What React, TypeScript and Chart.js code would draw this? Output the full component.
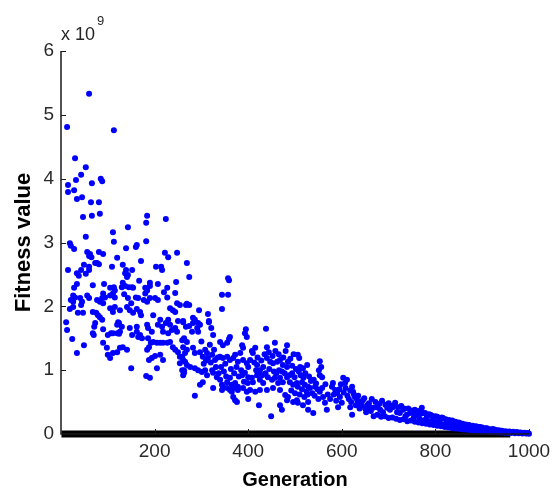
import React, { useEffect, useRef } from "react";
import { Chart, registerables } from "chart.js";

Chart.register(...registerables);

const FONT = '"Liberation Sans", Arial, Helvetica, sans-serif';

const xTicks = [200, 400, 600, 800, 1000];
const yTicks = [0, 1, 2, 3, 4, 5, 6];
const xTitle = "Generation";
const yTitle = "Fitness value";
const exponentBase = "x 10";
const exponentPower = "9";
// generation span of the black marks lying on zero
const zeroBand = [1, 960];

// [generation, fitness / 1e9]
const earlyPhase: [number, number][] = [
  [11, 1.75], [13, 4.81], [13, 1.63], [15, 3.9], [15, 3.79], [15, 2.57], [19, 2.99], [21, 2.95], [19, 1.96], [21, 2.1],
  [24, 1.49], [26, 2.17], [26, 2.07], [26, 1.99], [28, 3.82], [28, 2.9], [28, 2.29], [30, 4.32], [30, 2.14], [32, 3.98],
  [34, 3.68], [34, 2.52], [34, 2.35], [34, 1.27], [36, 1.9], [38, 2.48], [41, 2.13], [43, 4.06], [43, 2.57], [43, 2.02],
  [45, 3.71], [45, 2.07], [47, 3.4], [47, 1.9], [49, 2.65], [49, 1.39], [53, 4.18], [53, 3.09], [53, 2.51], [56, 2.85],
  [56, 2.17], [60, 5.33], [60, 2.79], [60, 2.62], [60, 2.57], [60, 2.13], [62, 2.82], [64, 3.63], [65, 2.77], [66, 3.93],
  [66, 3.42], [68, 2.33], [68, 1.91], [68, 1.58], [70, 1.55], [71, 1.68], [73, 2.68], [73, 1.74], [75, 1.9], [77, 2.68],
  [77, 2.1], [79, 1.86], [81, 3.63], [81, 2.85], [81, 2.66], [83, 3.45], [83, 2.07], [83, 1.83], [85, 4.0], [88, 3.96],
  [88, 2.13], [88, 1.79], [90, 2.82], [90, 2.2], [90, 2.05], [90, 1.64], [90, 1.43], [92, 2.35], [94, 2.14], [98, 1.35],
  [100, 1.55], [100, 1.24], [105, 2.29], [105, 2.17], [105, 1.97], [105, 1.19], [107, 1.58], [109, 2.62], [111, 3.16], [111, 2.2],
  [111, 1.91], [111, 1.58], [111, 1.27], [113, 4.76], [113, 3.01], [113, 2.3], [115, 2.25], [115, 2.14], [115, 1.99], [120, 2.76],
  [120, 1.71], [120, 1.58], [120, 1.28], [122, 1.75], [124, 1.74], [124, 1.57], [126, 1.94], [126, 1.6], [126, 1.35], [130, 2.3],
  [130, 1.68], [132, 2.65], [132, 2.37], [132, 1.36], [135, 2.19], [137, 2.52], [137, 2.32], [139, 2.91], [139, 2.57], [141, 2.46],
  [141, 1.99], [141, 1.32], [143, 3.24], [143, 2.49], [143, 2.13], [145, 2.3], [147, 1.94], [147, 1.66], [150, 2.05], [150, 1.03],
  [152, 2.57], [152, 2.3], [152, 1.55], [154, 2.29], [154, 1.9], [160, 2.93], [160, 2.14], [162, 2.96], [162, 1.96], [162, 1.68],
  [162, 1.6], [165, 2.13], [165, 1.52], [167, 2.4], [169, 1.91], [169, 1.55], [171, 2.71], [171, 1.86], [173, 1.5], [177, 2.1],
  [180, 2.29], [180, 2.2], [182, 3.31], [182, 3.02], [182, 0.91], [184, 3.42], [184, 2.25], [184, 2.07], [184, 1.71], [184, 1.32],
  [186, 1.66], [186, 1.5], [188, 1.36], [188, 1.16], [190, 2.37], [190, 2.32], [190, 2.13], [190, 0.88], [192, 1.43], [194, 1.6],
  [194, 1.19], [197, 1.86], [197, 1.44],
];

const middlePhase: [number, number][] = [
  [201, 2.13], [201, 1.22], [203, 2.62], [205, 1.43], [205, 1.03], [207, 2.35], [207, 2.1], [207, 1.71], [212, 1.79], [212, 1.43],
  [212, 1.24], [214, 2.62], [216, 2.57], [216, 1.68], [218, 1.6], [218, 1.43], [218, 1.16], [220, 2.22], [222, 2.84], [224, 3.37],
  [224, 1.74], [227, 2.29], [227, 2.14], [227, 1.43], [229, 2.77], [229, 1.79], [229, 1.58], [233, 1.97], [233, 1.71], [233, 1.44],
  [237, 1.63], [239, 1.94], [239, 1.36], [244, 2.21], [244, 1.91], [244, 1.66], [244, 1.32], [246, 2.38], [248, 2.84], [248, 2.05],
  [248, 1.6], [250, 1.77], [250, 1.28], [254, 2.02], [254, 1.21], [254, 1.11], [259, 1.47], [259, 1.21], [259, 1.0], [261, 1.77],
  [261, 1.75], [261, 1.36], [261, 1.16], [261, 0.92], [263, 1.5], [263, 1.0], [263, 0.96], [265, 1.27], [265, 1.13], [267, 2.02],
  [267, 1.68], [269, 2.68], [269, 2.04], [269, 1.44], [269, 1.32], [269, 1.08], [274, 2.46], [274, 2.02], [274, 1.69], [276, 1.05],
  [280, 1.6], [282, 1.82], [282, 1.74], [282, 1.35], [286, 1.79], [286, 1.27], [286, 1.03], [286, 0.6], [291, 1.66], [293, 1.74],
  [293, 1.6], [293, 1.0], [295, 1.94], [297, 1.71], [297, 1.28], [297, 0.77], [300, 1.45], [301, 0.97], [303, 1.21], [303, 0.81],
  [305, 1.1], [308, 1.32], [308, 1.0], [310, 1.15], [312, 1.27], [312, 0.92], [314, 1.88], [314, 1.19], [316, 1.77], [316, 1.75],
  [318, 1.4], [320, 1.12], [321, 1.66], [323, 1.24], [323, 1.0], [325, 1.55], [325, 0.96], [325, 0.72], [327, 1.32], [329, 1.16],
  [331, 1.05], [333, 0.89], [335, 1.2], [337, 0.95], [340, 1.44], [340, 1.21], [340, 0.85], [342, 1.05], [344, 2.18], [344, 1.96],
  [344, 0.77], [344, 0.69], [346, 1.39], [346, 1.19], [346, 0.74], [348, 0.98], [351, 1.1], [353, 0.9], [355, 1.43], [355, 1.21],
  [355, 0.81], [355, 0.72], [357, 2.44], [357, 2.18], [359, 2.41], [359, 1.49], [361, 1.52], [361, 1.16], [361, 0.88], [361, 0.69],
  [363, 1.02], [365, 0.77], [365, 0.66], [368, 1.19], [368, 0.72], [368, 0.58], [370, 0.95], [372, 1.24], [372, 0.8], [372, 0.53],
  [375, 1.05], [376, 0.5], [378, 1.13], [378, 0.74], [378, 0.69], [380, 0.9], [383, 1.27], [385, 1.0], [387, 1.39], [387, 0.92],
  [389, 1.35], [389, 1.16], [389, 0.72], [391, 0.82], [393, 1.58], [393, 0.96], [395, 1.64], [397, 1.52], [397, 1.11], [397, 0.66],
  [399, 0.8],
];

const latePhase: [number, number][] = [
  [400, 1.05], [400, 0.89], [400, 0.55], [404, 1.16], [404, 0.69], [408, 1.3], [408, 0.88], [410, 1.27], [410, 0.81], [413, 1.12],
  [415, 1.35], [415, 0.66], [417, 1.0], [419, 1.08], [419, 0.92], [420, 1.2], [423, 0.45], [424, 0.96], [425, 1.0], [425, 0.85],
  [425, 0.69], [428, 1.15], [430, 0.92], [432, 1.05], [432, 0.8], [435, 1.25], [437, 0.95], [438, 1.65], [440, 1.36], [440, 1.19],
  [440, 0.69], [442, 0.89], [444, 1.28], [445, 1.02], [447, 1.13], [449, 0.28], [451, 0.85], [452, 1.22], [453, 1.11], [453, 0.72],
  [455, 0.98], [457, 1.43], [457, 0.88], [458, 1.3], [460, 0.95], [462, 1.13], [464, 0.8], [465, 1.25], [466, 1.0], [468, 1.16],
  [468, 0.88], [468, 0.69], [468, 0.45], [472, 0.98], [472, 0.38], [474, 1.08], [474, 0.81], [475, 1.2], [478, 0.95], [479, 0.61],
  [480, 1.3], [483, 1.39], [483, 1.05], [483, 0.89], [483, 0.53], [485, 1.13], [485, 0.58], [488, 0.92], [489, 0.81], [490, 1.18],
  [492, 0.68], [494, 1.07], [494, 0.95], [496, 0.77], [496, 0.5], [497, 1.25], [499, 0.89], [500, 0.64], [502, 1.02], [504, 0.8],
  [504, 0.53], [506, 1.24], [506, 0.74], [506, 0.49], [508, 0.98], [509, 1.19], [510, 0.62], [511, 1.05], [512, 0.92], [515, 0.81],
  [515, 0.7], [517, 1.03], [517, 0.45], [518, 0.88], [520, 0.58], [521, 0.77], [522, 0.95], [525, 0.66], [526, 1.08], [527, 0.62],
  [528, 0.74], [528, 0.5], [528, 0.38], [530, 0.9], [532, 0.72], [534, 0.83], [537, 0.64], [539, 0.33], [540, 0.85], [542, 0.6],
  [543, 0.74], [545, 0.79], [548, 0.7], [550, 0.55], [551, 1.0], [553, 1.14], [553, 0.92], [553, 0.66], [556, 1.05], [558, 0.89],
  [558, 0.72], [560, 0.58], [564, 0.49], [565, 0.78], [568, 0.38], [570, 0.62], [575, 0.55], [579, 0.74], [581, 0.8], [583, 0.62],
  [586, 0.69], [588, 0.52], [590, 0.64], [592, 0.42], [595, 0.7], [596, 0.58], [598, 0.78], [600, 0.49], [603, 0.88], [604, 0.65],
  [607, 0.8], [608, 0.72], [611, 0.85], [612, 0.6], [615, 0.55], [618, 0.68], [618, 0.42], [620, 0.5], [622, 0.74], [622, 0.3],
  [624, 0.66], [626, 0.62], [628, 0.58], [630, 0.45], [633, 0.53], [635, 0.6], [638, 0.4], [639, 0.49], [642, 0.45], [645, 0.53],
  [648, 0.56], [650, 0.4], [652, 0.34], [654, 0.45], [656, 0.38], [658, 0.48], [660, 0.42],
];

const tailPhase: [number, number][] = [
  [662, 0.36], [664, 0.55], [667, 0.41], [668, 0.28], [672, 0.5], [675, 0.42], [676, 0.3], [680, 0.47], [682, 0.38], [684, 0.27],
  [686, 0.52], [688, 0.34], [692, 0.28], [693, 0.46], [697, 0.41], [700, 0.48], [700, 0.25], [703, 0.38], [706, 0.44], [708, 0.26],
  [709, 0.42], [712, 0.45], [714, 0.49], [716, 0.24], [718, 0.34], [720, 0.42], [724, 0.33], [724, 0.22], [727, 0.44], [731, 0.38],
  [732, 0.23], [733, 0.4], [736, 0.28], [739, 0.3], [740, 0.2], [742, 0.4], [746, 0.33], [748, 0.37], [748, 0.21], [752, 0.34],
  [754, 0.26], [756, 0.38], [756, 0.19], [761, 0.3], [763, 0.36], [764, 0.18], [766, 0.24], [767, 0.34], [770, 0.32], [771, 0.41],
  [772, 0.17], [774, 0.33], [777, 0.22], [778, 0.33], [780, 0.16], [782, 0.27], [785, 0.2], [786, 0.31], [788, 0.15], [789, 0.3],
  [792, 0.29], [793, 0.19], [795, 0.25], [796, 0.14], [800, 0.28], [801, 0.18], [804, 0.27], [804, 0.13], [807, 0.25], [809, 0.16],
  [810, 0.22], [812, 0.12], [814, 0.26], [816, 0.25], [818, 0.15], [820, 0.11], [822, 0.23], [825, 0.19], [826, 0.14], [828, 0.1],
  [829, 0.22], [831, 0.17], [834, 0.13], [836, 0.21], [836, 0.09], [838, 0.19], [842, 0.12], [843, 0.19], [844, 0.085], [846, 0.14],
  [850, 0.18], [850, 0.11], [852, 0.08], [853, 0.17], [858, 0.16], [858, 0.1], [859, 0.11], [860, 0.07], [865, 0.15], [866, 0.09],
  [868, 0.14], [868, 0.065], [872, 0.14], [874, 0.11], [874, 0.08], [876, 0.06], [880, 0.13], [880, 0.11], [882, 0.075], [884, 0.055],
  [887, 0.12], [889, 0.09], [890, 0.07], [892, 0.05], [894, 0.11], [895, 0.11], [898, 0.065], [900, 0.1], [900, 0.045], [902, 0.08],
  [906, 0.06], [907, 0.09], [908, 0.04], [910, 0.09], [914, 0.08], [914, 0.055], [916, 0.035], [917, 0.06], [921, 0.07], [922, 0.05],
  [923, 0.08], [924, 0.03], [928, 0.065], [930, 0.045], [932, 0.05], [932, 0.028], [935, 0.06], [938, 0.05], [938, 0.04], [940, 0.025],
  [942, 0.05], [946, 0.035], [948, 0.02], [950, 0.045], [954, 0.03], [956, 0.02], [958, 0.04], [962, 0.015], [962, 0.028], [966, 0.035],
  [970, 0.012], [970, 0.024], [974, 0.03], [978, 0.01], [978, 0.02], [982, 0.025], [986, 0.008], [986, 0.016], [990, 0.02], [994, 0.006],
  [994, 0.012], [998, 0.015], [1000, 0.005],
];

const matlabAxes = {
  id: "matlabAxes",
  afterDraw(chart: any) {
    const { ctx, chartArea, scales } = chart;
    const xs = scales.x;
    const ys = scales.y;
    ctx.save();
    ctx.strokeStyle = "#1a1a1a";
    ctx.lineWidth = 1.5;
    ctx.beginPath();
    ctx.moveTo(chartArea.left, chartArea.top);
    ctx.lineTo(chartArea.left, chartArea.bottom);
    ctx.lineTo(chartArea.right, chartArea.bottom);
    ctx.stroke();
    ctx.lineWidth = 1;
    yTicks.forEach((v) => {
      if (v === 0) return;
      const py = Math.round(ys.getPixelForValue(v)) + 0.5;
      ctx.beginPath();
      ctx.moveTo(chartArea.left, py);
      ctx.lineTo(chartArea.left + 5, py);
      ctx.stroke();
    });
    xTicks.forEach((v) => {
      const px = Math.round(xs.getPixelForValue(v)) + 0.5;
      ctx.beginPath();
      ctx.moveTo(px, chartArea.bottom);
      ctx.lineTo(px, chartArea.bottom - 5);
      ctx.stroke();
    });
    ctx.fillStyle = "#262626";
    ctx.textAlign = "left";
    ctx.textBaseline = "alphabetic";
    ctx.font = `18px ${FONT}`;
    ctx.fillText(exponentBase, chartArea.left, chartArea.top - 11);
    const w = ctx.measureText(exponentBase).width;
    ctx.font = `13px ${FONT}`;
    ctx.fillText(exponentPower, chartArea.left + w + 2, chartArea.top - 26);
    ctx.restore();
  },
};

const toPoints = (arr: [number, number][]) => arr.map(([x, y]) => ({ x, y }));

export default function App() {
  const canvasRef = useRef<HTMLCanvasElement | null>(null);

  useEffect(() => {
    if (!canvasRef.current) return;
    const points = [
      ...toPoints(earlyPhase),
      ...toPoints(middlePhase),
      ...toPoints(latePhase),
      ...toPoints(tailPhase),
    ];
    const chart = new Chart(canvasRef.current, {
      type: "scatter",
      data: {
        datasets: [
          {
            type: "scatter",
            data: points,
            pointRadius: 3,
            pointHoverRadius: 3,
            pointBackgroundColor: "#0000ff",
            pointBorderWidth: 0,
            borderWidth: 0,
            order: 0,
            clip: false as any,
          },
          {
            type: "line",
            data: [
              { x: zeroBand[0], y: 0 },
              { x: zeroBand[1], y: 0 },
            ],
            borderColor: "#000000",
            borderWidth: 7,
            pointRadius: 0,
            order: 1,
            clip: false as any,
          } as any,
        ],
      },
      options: {
        responsive: false,
        animation: false,
        events: [],
        layout: { padding: { top: 51, right: 28, left: 0, bottom: 0 } },
        plugins: { legend: { display: false }, tooltip: { enabled: false } },
        scales: {
          x: {
            type: "linear",
            min: 0,
            max: 1000,
            afterBuildTicks: (s: any) => {
              s.ticks = xTicks.map((value) => ({ value }));
            },
            afterFit: (s: any) => {
              s.height = 58;
            },
            grid: { display: false, drawTicks: false },
            border: { display: false },
            ticks: {
              color: "#2a2a2a",
              font: { family: FONT, size: 19 },
              padding: 6,
              maxRotation: 0,
              autoSkip: false,
              callback: (v: any) => String(v),
            },
            title: {
              display: true,
              text: xTitle,
              color: "#000",
              font: { family: FONT, size: 20, weight: "bold" },
              padding: { top: 0, bottom: 0 },
            },
          },
          y: {
            type: "linear",
            min: 0,
            max: 6,
            afterBuildTicks: (s: any) => {
              s.ticks = yTicks.map((value) => ({ value }));
            },
            afterFit: (s: any) => {
              s.width = 61;
            },
            grid: { display: false, drawTicks: false },
            border: { display: false },
            ticks: {
              color: "#2a2a2a",
              font: { family: FONT, size: 19 },
              padding: 7,
              callback: (v: any) => String(v),
            },
            title: {
              display: true,
              text: yTitle,
              color: "#000",
              font: { family: FONT, size: 22, weight: "bold" },
              padding: { top: 11, bottom: 0 },
            },
          },
        },
      },
      plugins: [matlabAxes],
    } as any);
    return () => chart.destroy();
  }, []);

  return (
    <div style={{ position: "fixed", left: 0, top: 0, width: 557, height: 492, background: "#fff" }}>
      <canvas ref={canvasRef} width={557} height={492} style={{ width: 557, height: 492, display: "block" }} />
    </div>
  );
}
